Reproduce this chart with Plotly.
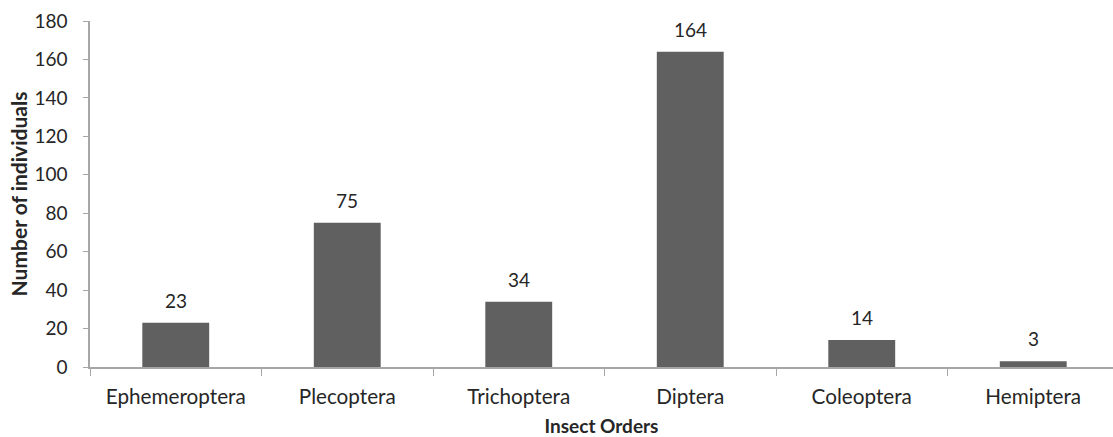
import plotly.graph_objects as go

categories = ["Ephemeroptera", "Plecoptera", "Trichoptera", "Diptera", "Coleoptera", "Hemiptera"]
values = [23, 75, 34, 164, 14, 3]
y_ticks = [0, 20, 40, 60, 80, 100, 120, 140, 160, 180]

FONT = "Lato, Open Sans, sans-serif"
AX = "#a6a6a6"
TXT = "#262626"

fig = go.Figure(go.Bar(
    x=categories, y=values,
    marker=dict(color="#606060", line=dict(width=0)),
))
for c, v in zip(categories, values):
    fig.add_annotation(x=c, y=v, text=str(v), showarrow=False,
                       yanchor="bottom", yshift=9,
                       font=dict(family=FONT, size=19, color=TXT))
fig.update_layout(
    width=1113, height=437,
    margin=dict(l=90, r=0, t=21, b=70),
    plot_bgcolor="white", paper_bgcolor="white",
    bargap=0.61, showlegend=False,
    font=dict(family=FONT, size=19, color=TXT),
)
fig.update_xaxes(
    range=[-0.5, 5.465], showline=True, linecolor=AX, linewidth=1.5,
    ticks="outside", tickson="boundaries", ticklen=7, tickcolor=AX,
    ticklabelstandoff=10,
    tickfont=dict(size=20.7), showgrid=False,
    title=dict(text="<b>Insect Orders</b>", font=dict(size=19), standoff=14),
)
fig.update_yaxes(
    range=[0, 180], tickvals=y_ticks, showline=True, linecolor=AX, linewidth=1.5,
    ticks="outside", ticklen=5, tickcolor=AX, ticklabelstandoff=12,
    tickfont=dict(size=19), showgrid=False, zeroline=False,
    title=dict(text="<b>Number of individuals</b>", font=dict(size=21), standoff=1),
)
fig.write_html("out.html")
